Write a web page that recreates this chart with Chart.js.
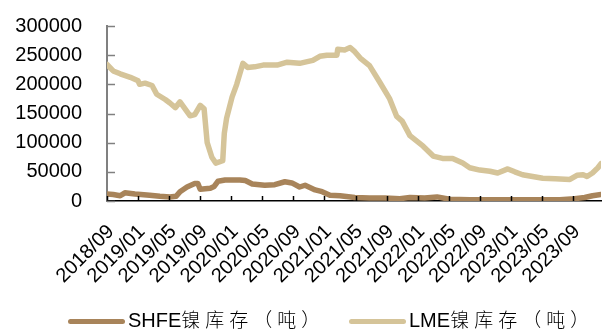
<!DOCTYPE html>
<html>
<head>
<meta charset="utf-8">
<script src="https://cdn.jsdelivr.net/npm/chart.js@4"></script>
<style>
  html, body { margin: 0; padding: 0; background: #fff; }
  #wrap { position: relative; width: 606px; height: 331px; }
  canvas { position: absolute; left: 0; top: 0; }
  .lg { position: absolute; top: 308px; height: 22px; font: 20px "Liberation Sans", Arial, sans-serif; color: #000; white-space: nowrap; line-height: 22px; }
  .lg .sw { position: absolute; top: 11px; height: 5px; border-radius: 3px; }
  .lg .cjk { font-family: "Noto Sans CJK SC", sans-serif; letter-spacing: 5px; font-size: 19px; font-weight: 300; }
</style>
</head>
<body>
<div id="wrap">
  <canvas id="c" width="606" height="331"></canvas>
  <div id="legend"></div>
</div>
<script>
// Series names
const seriesNames = ["SHFE镍库存（吨）", "LME镍库存（吨）"];
const seriesColors = ["#A8845A", "#D5C499"];

// X positions are months elapsed since 2018/09
const lmeMonths = [0, 0.8, 1.7, 3.0, 4.0, 4.2, 4.9, 5.8, 6.4, 7.5, 8.1, 8.8, 9.4, 10.7, 11.3, 12.0, 12.5, 12.9, 13.5, 14.0, 14.9, 15.1, 15.4, 16.1, 16.7, 17.5, 18.1, 19.0, 20.1, 21.9, 23.2, 24.8, 26.5, 27.4, 28.3, 29.6, 29.7, 30.6, 31.3, 31.9, 32.6, 33.8, 35.1, 36.4, 37.3, 38.0, 39.0, 40.7, 42.0, 43.2, 44.5, 45.8, 46.7, 48.0, 49.3, 50.3, 51.6, 52.5, 53.5, 54.8, 56.1, 57.7, 59.6, 60.5, 61.3, 61.8, 62.5, 63.2, 63.6];
const lmeValues = [234000, 223000, 218000, 212000, 206000, 200000, 202000, 198000, 183000, 174000, 168000, 160000, 170000, 146000, 148000, 164000, 158000, 100000, 75000, 65000, 69000, 116000, 142000, 178000, 200000, 236000, 229000, 230000, 233000, 233000, 238000, 236000, 241000, 248000, 250000, 250000, 260000, 259000, 263000, 256000, 245000, 232000, 204000, 175000, 145000, 137000, 112000, 94000, 77000, 73000, 73000, 65000, 57000, 53000, 51000, 48000, 55000, 50000, 45000, 42000, 39000, 38000, 37000, 44000, 45000, 42000, 48000, 57000, 64000];

const shfeMonths = [0, 0.8, 1.7, 2.3, 3.6, 5.5, 6.8, 8.1, 8.9, 9.4, 10.3, 11.3, 11.7, 12.0, 13.3, 13.8, 14.3, 15.2, 17.1, 17.8, 18.7, 20.3, 21.6, 22.9, 23.8, 24.8, 25.5, 26.8, 27.7, 28.7, 30.0, 31.9, 33.8, 35.8, 37.7, 39.0, 40.9, 42.5, 44.1, 46.7, 50.6, 54.4, 58.3, 60.2, 61.5, 62.5, 63.6];
const shfeValues = [12000, 11000, 9000, 14000, 12000, 10000, 8000, 7000, 8000, 16000, 24000, 30000, 30000, 20000, 22000, 25000, 34000, 36000, 36000, 35000, 29000, 27000, 28000, 33000, 31000, 24000, 27000, 19000, 16000, 10000, 9000, 6000, 5000, 5000, 4000, 6000, 5000, 7000, 3000, 2000, 2000, 2000, 2000, 4000, 6000, 9000, 11000];

// Axis settings
const startYear = 2018, startMonth = 9;
const xTickStepMonths = 4;
const xMax = 63.6;
const yMax = 300000, yStep = 50000;

function monthLabel(v) {
  const m = startMonth - 1 + Math.round(v);
  const y = startYear + Math.floor(m / 12);
  const mm = (m % 12) + 1;
  return y + "/" + (mm < 10 ? "0" + mm : mm);
}
function pts(xs, ys) { return xs.map((x, i) => ({ x: x, y: ys[i] })); }

const innerTicks = {
  id: 'innerTicks',
  afterDraw(chart) {
    const ctx = chart.ctx;
    const xs = chart.scales.x, ys = chart.scales.y;
    const a = chart.chartArea;
    ctx.save();
    ctx.lineWidth = 1.5;
    ctx.strokeStyle = '#000';
    xs.ticks.forEach(t => {
      const px = Math.round(xs.getPixelForValue(t.value)) + 0.5;
      ctx.beginPath(); ctx.moveTo(px, a.bottom); ctx.lineTo(px, a.bottom - 5); ctx.stroke();
    });
    ctx.strokeStyle = '#808080';
    ctx.lineWidth = 1.5;
    ys.ticks.forEach(t => {
      const py = Math.round(ys.getPixelForValue(t.value)) + 0.5;
      ctx.beginPath(); ctx.moveTo(a.left, py); ctx.lineTo(a.left + 8, py); ctx.stroke();
    });
    ctx.restore();
  }
};

const font = { family: '"Liberation Sans", Arial, sans-serif', size: 20 };

const chart = new Chart(document.getElementById('c'), {
  type: 'line',
  data: {
    datasets: [
      { label: seriesNames[0], data: pts(shfeMonths, shfeValues), borderColor: seriesColors[0], backgroundColor: seriesColors[0] },
      { label: seriesNames[1], data: pts(lmeMonths, lmeValues), borderColor: seriesColors[1], backgroundColor: seriesColors[1] }
    ]
  },
  options: {
    responsive: false,
    animation: false,
    devicePixelRatio: 1,
    layout: { padding: { top: 26, right: 5, left: 0, bottom: 0 } },
    elements: {
      point: { radius: 0 },
      line: { borderWidth: 5.5, tension: 0, borderJoinStyle: 'round', borderCapStyle: 'round' }
    },
    plugins: { legend: { display: false }, tooltip: { enabled: false } },
    scales: {
      x: {
        type: 'linear', min: 0, max: xMax,
        grid: { display: false, drawTicks: false },
        border: { display: true, color: '#000', width: 1.5 },
        ticks: {
          stepSize: xTickStepMonths, includeBounds: false, autoSkip: false,
          maxRotation: 45, minRotation: 45, padding: 19, labelOffset: 4,
          color: '#000', font: font,
          callback: v => monthLabel(v)
        },
        afterFit: s => { s.height = 130; s.paddingLeft = 0; s.paddingRight = 0; }
      },
      y: {
        min: 0, max: yMax,
        grid: { display: false, drawTicks: false },
        border: { display: true, color: '#808080', width: 2 },
        ticks: { stepSize: yStep, padding: 25, color: '#000', font: font, callback: v => String(v) },
        afterFit: s => { s.width = 107; s.paddingTop = 0; s.paddingBottom = 0; }
      }
    }
  },
  plugins: [innerTicks]
});

// HTML legend built from the chart's datasets
const legendPos = [{ sw: 68, tx: 128 }, { sw: 349, tx: 409 }];
const lg = document.getElementById('legend');
chart.data.datasets.forEach((ds, i) => {
  const m = ds.label.match(/^([A-Za-z]+)(.*)$/);
  const it = document.createElement('div');
  it.className = 'lg';
  it.style.left = legendPos[i].sw + 'px';
  it.innerHTML = '<span class="sw" style="left:0;width:57px;background:' + ds.borderColor + '"></span>' +
    '<span style="position:absolute;left:' + (legendPos[i].tx - legendPos[i].sw) + 'px">' + m[1] + '<span class="cjk">' + m[2] + '</span></span>';
  lg.appendChild(it);
});
</script>
</body>
</html>
